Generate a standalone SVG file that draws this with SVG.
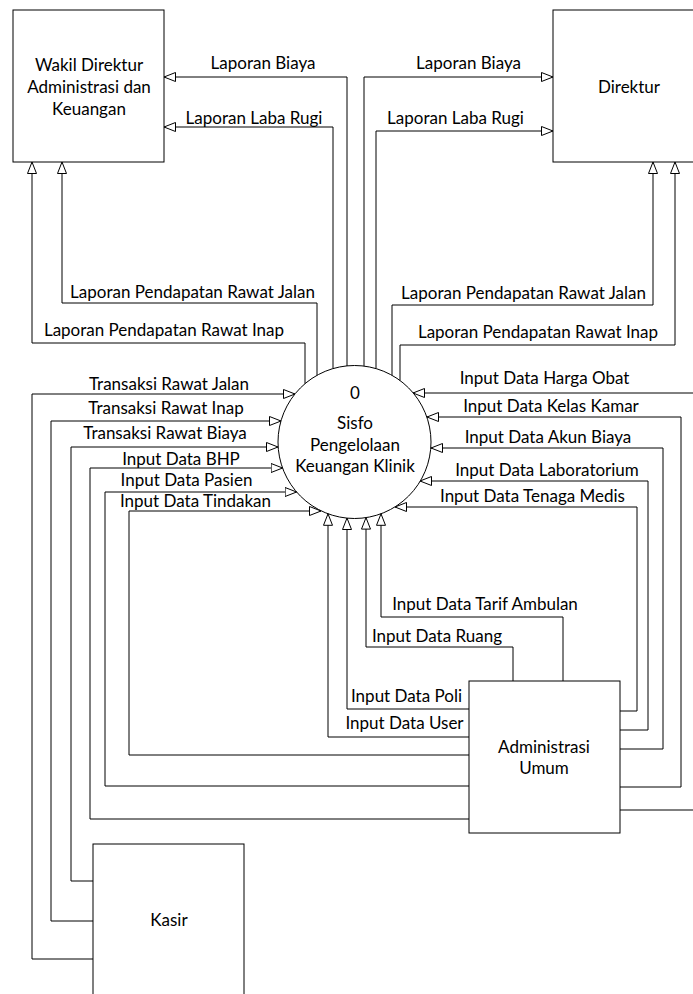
<svg xmlns="http://www.w3.org/2000/svg" width="693" height="994" viewBox="0 0 693 994">
<style>
.box{fill:#fff;stroke:#000;stroke-width:1}
.lbl{font-family:Lato,"Liberation Sans",sans-serif;font-size:17px;fill:#000;text-anchor:middle}
.ln{fill:none;stroke:#000;stroke-width:1;marker-end:url(#arr)}
</style>
<defs>
<marker id="arr" markerUnits="userSpaceOnUse" markerWidth="14" markerHeight="12" refX="12" refY="5" orient="auto">
<path d="M0.5,0.5 L12,5 L0.5,9.5 Z" fill="#fff" stroke="#000" stroke-width="1"/>
</marker>
</defs>
<rect width="693" height="994" fill="#fff"/>
<g id="wakil-direktur">
<rect class="box" x="13" y="10" width="151" height="152"/>
<text class="lbl" x="89" y="71">Wakil Direktur</text>
<text class="lbl" x="89" y="93">Administrasi dan</text>
<text class="lbl" x="89" y="115">Keuangan</text>
</g>
<g id="direktur">
<rect class="box" x="553" y="10" width="152" height="152"/>
<text class="lbl" x="629" y="93">Direktur</text>
</g>
<g id="proses-0">
<circle class="box" cx="354.5" cy="442" r="76.5"/>
<text class="lbl" x="355" y="399">0</text>
<text class="lbl" x="355" y="429">Sisfo</text>
<text class="lbl" x="355" y="451">Pengelolaan</text>
<text class="lbl" x="355" y="472">Keuangan Klinik</text>
</g>
<g id="administrasi-umum">
<rect class="box" x="469" y="681" width="151" height="152"/>
<text class="lbl" x="544" y="753">Administrasi</text>
<text class="lbl" x="544" y="774">Umum</text>
</g>
<g id="kasir">
<rect class="box" x="93" y="844" width="151" height="152"/>
<text class="lbl" x="169" y="926">Kasir</text>
</g>
<g id="connectors">
<path class="ln" d="M347,366 V77 H164"/>
<path class="ln" d="M333,368.6 V127 H164"/>
<path class="ln" d="M317,375.3 V303 H62 V162"/>
<path class="ln" d="M305,383.7 V343 H32 V162"/>
<path class="ln" d="M364,366 V77 H553"/>
<path class="ln" d="M376,368.6 V131 H553"/>
<path class="ln" d="M392,375.3 V305 H653 V162"/>
<path class="ln" d="M400,380.5 V345 H675 V162"/>
<path class="ln" d="M93,959 H32 V394 H295"/>
<path class="ln" d="M93,921 H51 V421 H281"/>
<path class="ln" d="M93,881 H71 V447 H278"/>
<path class="ln" d="M469,819 H90 V468 H282.6"/>
<path class="ln" d="M469,786 H105 V492 H296.6"/>
<path class="ln" d="M469,755 H129 V511 H321"/>
<path class="ln" d="M469,737 H328 V513.8"/>
<path class="ln" d="M469,709 H347 V518"/>
<path class="ln" d="M513,681 V647 H366 V517.6"/>
<path class="ln" d="M563,681 V617 H381 V513.8"/>
<path class="ln" d="M620,711 H637 V507 H395"/>
<path class="ln" d="M620,730 H648 V481 H420"/>
<path class="ln" d="M620,749 H663 V448 H431"/>
<path class="ln" d="M620,787 H681 V417 H427"/>
<path class="ln" d="M620,810 H705 V393 H413"/>
<text class="lbl" x="263" y="69">Laporan Biaya</text>
<text class="lbl" x="254" y="124">Laporan Laba Rugi</text>
<text class="lbl" x="468.5" y="69">Laporan Biaya</text>
<text class="lbl" x="455.5" y="124">Laporan Laba Rugi</text>
<text class="lbl" x="192.5" y="298">Laporan Pendapatan Rawat Jalan</text>
<text class="lbl" x="164" y="336">Laporan Pendapatan Rawat Inap</text>
<text class="lbl" x="523.5" y="299">Laporan Pendapatan Rawat Jalan</text>
<text class="lbl" x="538" y="338">Laporan Pendapatan Rawat Inap</text>
<text class="lbl" x="169" y="390">Transaksi Rawat Jalan</text>
<text class="lbl" x="166" y="414">Transaksi Rawat Inap</text>
<text class="lbl" x="165" y="439">Transaksi Rawat Biaya</text>
<text class="lbl" x="181" y="465">Input Data BHP</text>
<text class="lbl" x="186.5" y="486">Input Data Pasien</text>
<text class="lbl" x="195.5" y="507">Input Data Tindakan</text>
<text class="lbl" x="544.5" y="384">Input Data Harga Obat</text>
<text class="lbl" x="551" y="412">Input Data Kelas Kamar</text>
<text class="lbl" x="548" y="443">Input Data Akun Biaya</text>
<text class="lbl" x="547" y="476">Input Data Laboratorium</text>
<text class="lbl" x="532.5" y="502">Input Data Tenaga Medis</text>
<text class="lbl" x="485" y="610">Input Data Tarif Ambulan</text>
<text class="lbl" x="437" y="642">Input Data Ruang</text>
<text class="lbl" x="406.5" y="702">Input Data Poli</text>
<text class="lbl" x="404.5" y="729">Input Data User</text>
</g>
</svg>
